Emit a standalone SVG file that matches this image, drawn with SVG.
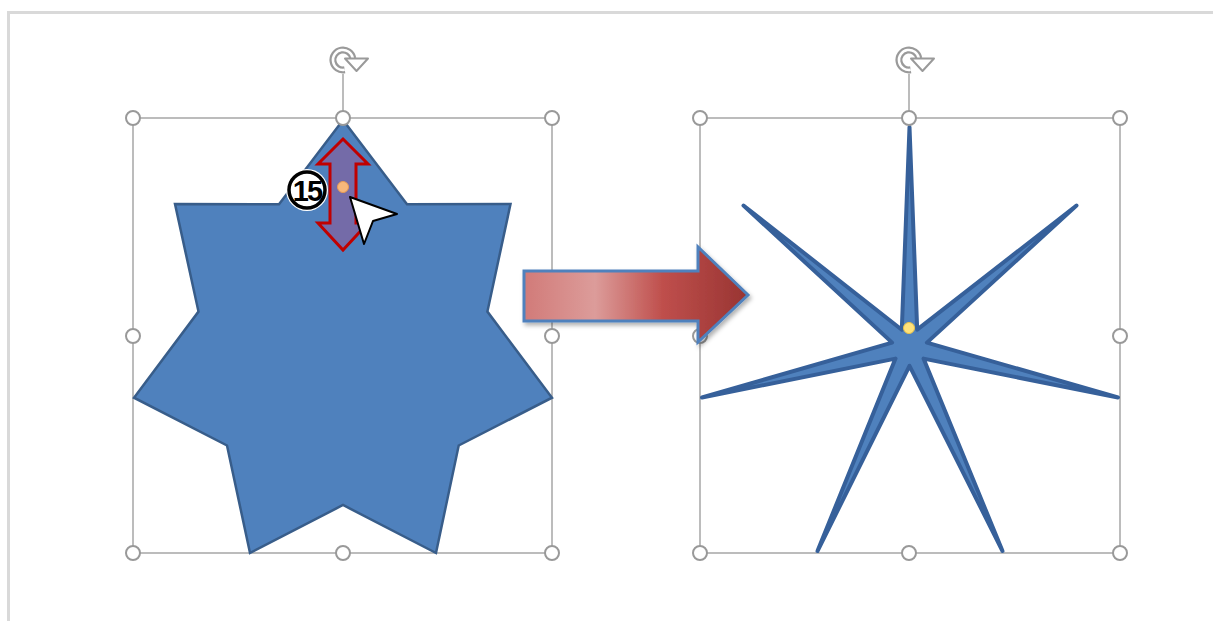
<svg xmlns="http://www.w3.org/2000/svg" width="1213" height="621" viewBox="0 0 1213 621">
<defs>
<style>
.frame{fill:none;stroke:#A6A6A6;stroke-width:1.5}
.hdl{fill:#fff;stroke:#999;stroke-width:2}
.star{fill:#4F81BD;stroke:#385D8A;stroke-width:2.5;stroke-linejoin:miter}
.spokes{fill:#4F81BD;stroke:#36609A;stroke-width:4;stroke-linejoin:round}
.rot{fill:none;stroke:#9A9A9A;stroke-width:7}
.rotin{fill:none;stroke:#fff;stroke-width:2.5}
</style>
<linearGradient id="arrowGrad" x1="523" y1="0" x2="748" y2="0" gradientUnits="userSpaceOnUse">
<stop offset="0" stop-color="#D17A78"/>
<stop offset="0.32" stop-color="#DC9C9A"/>
<stop offset="0.62" stop-color="#BF4F4C"/>
<stop offset="1" stop-color="#983432"/>
</linearGradient>
<filter id="shadow" x="-10%" y="-10%" width="130%" height="140%">
<feDropShadow dx="2" dy="3" stdDeviation="2" flood-color="#000" flood-opacity="0.3"/>
</filter>
<g id="rotIcon">
<path class="rot" d="M 344.7 69.8 A 10 10 0 1 1 352.8 58.3"/>
<path class="rotin" d="M 344.7 69.8 A 10 10 0 1 1 352.8 58.3"/>
<polygon points="345,58.5 368,58.5 356.5,71" fill="#fff" stroke="#9A9A9A" stroke-width="2" stroke-linejoin="round"/>
</g>
</defs>
<rect width="1213" height="621" fill="#fff"/>
<g id="page">
<line x1="7" y1="12.5" x2="1213" y2="12.5" stroke="#D9D9D9" stroke-width="3"/>
<line x1="8.5" y1="11" x2="8.5" y2="621" stroke="#D9D9D9" stroke-width="3"/>
</g>

<g id="left-shape">
<rect class="frame" x="133" y="118" width="419" height="435"/>
<line x1="343" y1="74" x2="343" y2="111" stroke="#A6A6A6" stroke-width="1.5"/>
<use href="#rotIcon"/>
<polygon class="star" points="343,120 407,204.3 510.5,204.1 487.4,311.6 552,397.7 458.7,445.5 436,553 343,505 250,553 227,445.5 134,397.7 198.5,311.6 175,204.1 279,204.3"/>
<g id="left-handles">
<circle class="hdl" cx="133" cy="118" r="7"/>
<circle class="hdl" cx="343" cy="118" r="7"/>
<circle class="hdl" cx="552" cy="118" r="7"/>
<circle class="hdl" cx="133" cy="336" r="7"/>
<circle class="hdl" cx="552" cy="336" r="7"/>
<circle class="hdl" cx="133" cy="553" r="7"/>
<circle class="hdl" cx="343" cy="553" r="7"/>
<circle class="hdl" cx="552" cy="553" r="7"/>
</g>
<polygon id="double-arrow" points="343,139 368,164 356,164 356,223 368,223 343,250 318,223 330,223 330,164 318,164" fill="#8064A2" fill-opacity="0.75" stroke="#C00000" stroke-width="3" stroke-linejoin="miter"/>
<circle cx="343" cy="187" r="5.5" fill="#F7B77B" stroke="#E69B55" stroke-width="1"/>
<g id="badge">
<circle cx="307" cy="190" r="21" fill="#fff"/>
<circle cx="307" cy="190" r="18" fill="#fff" stroke="#000" stroke-width="3.5"/>
<text x="307" y="200.5" font-family="Liberation Sans, Arial, sans-serif" font-weight="bold" font-size="29" text-anchor="middle" fill="#000" letter-spacing="-2">15</text>
</g>
<polygon id="cursor" points="350,197 397,214 373,221 364,244" fill="#fff" stroke="#000" stroke-width="2" stroke-linejoin="round"/>
</g>

<g id="right-shape">
<rect class="frame" x="700" y="118" width="420" height="435"/>
<line x1="909" y1="74" x2="909" y2="111" stroke="#A6A6A6" stroke-width="1.5"/>
<use href="#rotIcon" transform="translate(566,0)"/>
<polygon class="spokes" points="909.5,127 917.2,329.7 1076.5,205.5 926.9,342.6 1118,397.5 923.5,358.6 1002.5,551 909.5,365.8 817.5,551 895.5,358.6 702,397.5 892.1,342.6 743.5,205.5 901.8,329.7"/>
<g id="right-handles">
<circle class="hdl" cx="700" cy="118" r="7"/>
<circle class="hdl" cx="909" cy="118" r="7"/>
<circle class="hdl" cx="1120" cy="118" r="7"/>
<circle class="hdl" cx="700" cy="336" r="7"/>
<circle class="hdl" cx="1120" cy="336" r="7"/>
<circle class="hdl" cx="700" cy="553" r="7"/>
<circle class="hdl" cx="909" cy="553" r="7"/>
<circle class="hdl" cx="1120" cy="553" r="7"/>
</g>
<circle cx="909" cy="328" r="5.5" fill="#FFE27A" stroke="#E8C24A" stroke-width="1"/>
</g>

<g id="connectors">
<polygon id="block-arrow" points="524,271 698,271 698,247 748,295 698,342 698,321 524,321" fill="url(#arrowGrad)" stroke="#4F81BD" stroke-width="3" stroke-linejoin="miter" filter="url(#shadow)"/>
</g>
</svg>
